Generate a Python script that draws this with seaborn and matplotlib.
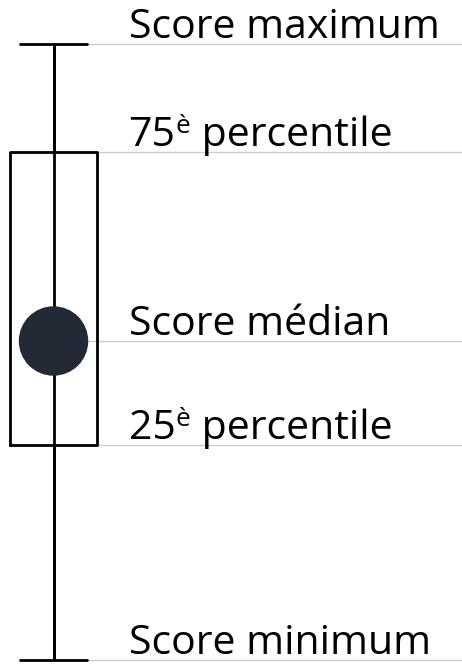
import numpy as np
import pandas as pd
import matplotlib
matplotlib.use("Agg")
import matplotlib.pyplot as plt
import seaborn as sns

# the five numbers of the box (minimum, q1, median, q3, maximum)
scores = [0, 215, 319, 508, 616]
labels = ["Score minimum", "25", "Score médian", "75", "Score maximum"]
label_sup = ["", "è", "", "è", ""]
label_tail = ["", " percentile", "", " percentile", ""]

sns.set_theme(style="white")
plt.rcParams['font.family'] = ['Open Sans', 'DejaVu Sans']

fig = plt.figure(figsize=(4.62, 6.64), dpi=100)
ax = fig.add_axes([0, 0, 1, 1])

df = pd.DataFrame({"grp": ["a"] * len(scores), "score": scores})
sns.boxplot(data=df, x="grp", y="score", whis=np.inf, width=0.8, fill=False,
            color="black", linewidth=2, capwidths=0.625,
            medianprops=dict(linewidth=0), ax=ax, zorder=3)

# whisker line running through the box
ax.vlines(0, scores[0], scores[-1], color="black", lw=2, zorder=3)

# median dot
sns.scatterplot(x=[0], y=[scores[2]], s=2500, color="#232a36", edgecolor="none",
                ax=ax, zorder=4, legend=False)

ax.set_xlim(-0.492, 3.756)
ax.set_ylim(-4, 660)
ax.axis("off")

# thin grey guide lines
ax.hlines(scores, 0, 3.756, color="#cccccc", lw=1, zorder=1)

fs = 29.5
fig.canvas.draw()
r = fig.canvas.get_renderer()
inv = ax.transData.inverted()
for val, lab, sup, tail in zip(scores, labels, label_sup, label_tail):
    y = val + 6
    t = ax.text(0.69, y, lab, fontsize=fs, ha="left", va="baseline", color="black")
    if sup:
        bb = t.get_window_extent(r).transformed(inv)
        s = ax.text(bb.x1 + 0.005, y + 13, sup, fontsize=fs * 0.64, ha="left",
                    va="baseline", color="black")
        bb2 = s.get_window_extent(r).transformed(inv)
        ax.text(bb2.x1, y, tail, fontsize=fs, ha="left", va="baseline", color="black")

fig.savefig("out.png", dpi=100)
